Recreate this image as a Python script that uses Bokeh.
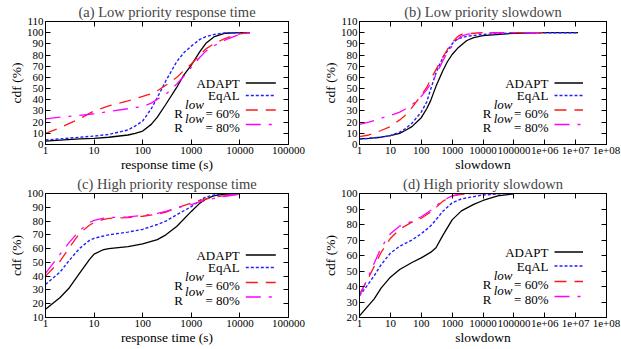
import math
from bokeh.plotting import figure
from bokeh.layouts import gridplot
from bokeh.models import (Range1d, FixedTicker, LinearAxis, LogAxis, Label, Arrow,
                          CustomJSTickFormatter)
from bokeh.embed import file_html
from bokeh.resources import INLINE

NaN = float("nan")

# ---------------- data ----------------
# (a) Low priority response time
a_x = [1, 2, 5, 10, 20, 50, 70, 100, 150, 200, 300, 500, 700, 1000, 1500, 2000, 3000, 5000, 10000, 16000]
a_adapt = [3, 4, 5, 5.5, 6.5, 8.5, 10, 12, 18, 24.5, 36, 51, 62, 71, 83, 90.5, 96.5, 99.5, 100, 100]
a_eqal = [4, 5, 6.5, 7.5, 9, 13, 16.5, 21, 32, 42, 57, 74, 82, 88, 94, 96.5, 98.5, 99.8, 100, 100]
a_r60 = [10, 15, 23, 30, 34.5, 39, 41, 43, 45.5, 48, 53, 60, 66, 72, 80, 85.5, 90.5, 95, 99, 100]
a_r80 = [23, 24.5, 26, 27.5, 29.5, 32, 33, 34, 37, 40.5, 45, 54, 61, 69, 78, 83.5, 88.5, 93.5, 98.5, 100]

# (b) Low priority slowdown
b_x = [1, 2, 3, 5, 10, 20, 30, 50, 100, 150, 200, 300, 500, 700, 1000, 1500, 2000, 3000, 5000, 10000, 1e5, 1e6, 1.2e7]
b_adapt = [5, 5.5, 6, 6.5, 8, 10, 12.5, 16, 24, 32, 39, 52, 66, 74, 80.5, 86, 89, 93, 95.5, 97.3, 99.5, 100, 100]
b_eqal = [5, 5.5, 6, 6.5, 8, 11, 14, 19, 29, 38, 49, 64, 78, 83.5, 90, 94.5, 95.5, 96.8, 97.5, 98.5, 99.8, 100, 100]
b_r60 = [7, 8.5, 10, 12.5, 16, 22, 26, 33, 44, 51, 58, 67, 78, 85, 91, 96.5, 98.5, 99, 99.5, 100, 100, 100, NaN]
b_r80 = [18, 20, 21.5, 23.5, 26, 29, 31.5, 35.5, 43, 49, 54, 62, 75, 82, 88, 94, 97, 98.5, 99.5, 99.8, 100, 100, NaN]

# (c) High priority response time
c_x = [1, 2, 3, 5, 8, 10, 15, 20, 50, 100, 200, 300, 500, 1000, 1500, 2000, 3000, 5000, 10000]
c_adapt = [16, 24.5, 31, 42, 52, 56, 59, 60, 61.5, 63.5, 66.5, 70, 76, 87, 93, 96, 98.5, 99.5, 100]
c_eqal = [34, 43, 51, 60, 66, 67.5, 69, 70, 72, 74, 77.5, 80, 84.5, 90.5, 95, 97.5, 99, 100, 100]
c_r60 = [40, 51, 60, 71, 77, 79, 81, 82, 82.5, 83.5, 85, 86.5, 89.5, 93, 95, 96, 97.5, 98.5, 100]
c_r80 = [42, 56, 64, 73, 79, 80.5, 82, 82.5, 83, 84, 85.5, 87, 89.5, 92, 94, 95, 96.5, 98, 99.5]

# (d) High priority slowdown
d_x = [1, 2, 3, 5, 10, 20, 50, 100, 200, 300, 500, 1000, 2000, 5000, 10000, 30000, 100000]
d_adapt = [21, 28, 32, 39, 46, 51, 55.5, 58.5, 62, 65, 73, 83, 88.8, 93, 95.5, 98.5, 99.8]
d_eqal = [34, 42, 47, 54, 61.5, 66, 70, 74, 79, 83, 88.5, 94, 96.5, 98, 99, 99.7, 100]
d_r60 = [35, 46, 53, 62, 71, 77, 81.5, 84, 88, 91, 95, 98.5, 99.5, 100, 100, 100, NaN]
d_r80 = [34, 47, 55, 65, 74, 79, 82, 85, 89, 92, 95.5, 98.5, 99.7, 100, 100, 100, NaN]

rt_ticks = [1, 10, 100, 1000, 10000, 100000]
rt_labels = ["1", "10", "100", "1000", "10000", "100000"]
sd_ticks = [1, 10, 100, 1000, 10000, 100000, 1000000, 10000000, 100000000]
sd_labels = ["1", "10", "100", "1000", "10000", "100000", "1e+06", "1e+07", "1e+08"]
y_ticks_ab = list(range(0, 111, 10))
y_ticks_c = list(range(10, 101, 10))
y_ticks_d = list(range(20, 101, 10))

# ---------------- styling ----------------
FONT = "Liberation Serif"
STYLES = [
    ("ADAPT", "#000000", "solid", 1.3),
    ("EqAL", "#2020ff", "3 2", 1.4),
    ("60", "#ff1a1a", "12 8", 1.3),
    ("80", "#ff00ff", "15 8 3 8", 1.3),
]


def label_formatter(tvals, tlabels):
    return CustomJSTickFormatter(args=dict(tv=tvals, tl=tlabels), code="""
        for (let i = 0; i < tv.length; i++) {
            if (Math.abs(Math.log10(tick) - Math.log10(tv[i])) < 1e-6) return tl[i];
        }
        return "";
    """)


def blank_formatter():
    return CustomJSTickFormatter(code="return '';")


def panel(title, xs, ys, xmax, ylo, yhi, yticks, xticks, xlabels, xlabel,
          W, H, bl, br, bt, bb, text_off, line_len, rows):
    p = figure(width=W, height=H, x_axis_type="log",
               x_range=Range1d(1, xmax), y_range=Range1d(ylo, yhi),
               output_backend="svg", toolbar_location=None,
               min_border_left=bl, min_border_right=br,
               min_border_top=bt, min_border_bottom=bb, title=title)
    p.background_fill_color = "white"
    p.border_fill_color = "white"
    p.outline_line_color = "black"
    p.outline_line_width = 1
    p.xgrid.visible = False
    p.ygrid.visible = False

    p.title.text_font = FONT
    p.title.text_font_size = "14.5px"
    p.title.text_font_style = "normal"
    p.title.align = "center"
    p.title.standoff = 0
    p.title.vertical_align = "top"

    xa = p.xaxis[0]
    xa.ticker = FixedTicker(ticks=xticks)
    xa.formatter = label_formatter(xticks, xlabels)
    xa.axis_label = xlabel
    ya = p.yaxis[0]
    ya.ticker = FixedTicker(ticks=yticks)
    ya.axis_label = "cdf (%)"
    for ax in (xa, ya):
        ax.major_tick_in = 5
        ax.major_tick_out = 0
        ax.minor_tick_in = 0
        ax.minor_tick_out = 0
        ax.major_label_text_font = FONT
        ax.major_label_text_font_size = "11px"
        ax.major_label_text_color = "black"
        ax.axis_label_text_font = FONT
        ax.axis_label_text_font_size = "13.5px"
        ax.axis_label_text_font_style = "normal"
        ax.axis_label_text_color = "black"
        ax.axis_line_color = "black"
        ax.major_tick_line_color = "black"
        ax.major_label_standoff = 2
        ax.axis_label_standoff = 0

    top = LogAxis(ticker=FixedTicker(ticks=xticks), formatter=blank_formatter(),
                  major_tick_in=5, major_tick_out=0, minor_tick_in=0, minor_tick_out=0,
                  major_label_standoff=0, axis_line_color="black")
    right = LinearAxis(ticker=FixedTicker(ticks=yticks), formatter=blank_formatter(),
                       major_tick_in=5, major_tick_out=0, minor_tick_in=0, minor_tick_out=0,
                       major_label_standoff=0, axis_line_color="black")
    p.add_layout(top, "above")
    p.add_layout(right, "right")

    for (name, color, dash, lw), y in zip(STYLES, ys):
        p.line(xs, y, line_color=color, line_width=lw, line_dash=dash)

    # ---- legend (text on the left, sample on the right, like gnuplot) ----
    fw = W - bl - br
    fh = H - bt - bb
    lmax = math.log10(xmax)

    def to_data(off_right, off_bottom):
        return 10 ** ((fw - off_right) / fw * lmax), ylo + off_bottom / fh * (yhi - ylo)

    def txt(off_r, off_b, s, style="normal"):
        x, y = to_data(off_r, off_b)
        p.add_layout(Label(x=x, y=y, text=s, text_align="right", text_baseline="middle",
                           text_font=FONT, text_font_size="13px", text_font_style=style,
                           text_color="black"))

    def sample(off_b, style):
        _, color, dash, lw = style
        x0, y0 = to_data(text_off - 6, off_b)
        x1, _ = to_data(text_off - 6 - line_len, off_b)
        p.add_layout(Arrow(x_start=x0, y_start=y0, x_end=x1, y_end=y0, end=None,
                           line_color=color, line_width=lw, line_dash=dash))

    txt(text_off, rows[0], "ADAPT")
    sample(rows[0] + 0.5, STYLES[0])
    txt(text_off, rows[1], "EqAL")
    sample(rows[1], STYLES[1])
    for k, pct in ((2, "60"), (3, "80")):
        txt(text_off + 57, rows[k], "R")
        txt(text_off + 36, rows[k] + 9, "low", "italic")
        txt(text_off, rows[k], "= " + pct + "%")
        sample(rows[k] + 3, STYLES[k])
    return p


pa = panel("(a) Low priority response time", a_x, [a_adapt, a_eqal, a_r60, a_r80],
           100000, 0, 110, y_ticks_ab, rt_ticks, rt_labels, "response time (s)",
           310, 174, 45, 22, 21, 30, 48.7, 30, [61, 49, 31.5, 17])
pb = panel("(b) Low priority slowdown", b_x, [b_adapt, b_eqal, b_r60, b_r80],
           1e8, 0, 110, y_ticks_ab, sd_ticks, sd_labels, "slowdown",
           311, 174, 49, 15, 21, 30, 58, 28.5, [61, 49, 31.5, 17])
pc = panel("(c) High priority response time", c_x, [c_adapt, c_eqal, c_r60, c_r80],
           100000, 10, 100, y_ticks_c, rt_ticks, rt_labels, "response time (s)",
           310, 175, 45, 22, 19, 32, 48.7, 30, [62, 50, 32, 17.5])
pd = panel("(d) High priority slowdown", d_x, [d_adapt, d_eqal, d_r60, d_r80],
           1e8, 20, 100, y_ticks_d, sd_ticks, sd_labels, "slowdown",
           311, 175, 49, 15, 19, 32, 58, 28.5, [65, 51.5, 33, 18])

grid = gridplot([[pa, pb], [pc, pd]], toolbar_location=None)

open("out.html", "w").write(file_html(grid, INLINE))
